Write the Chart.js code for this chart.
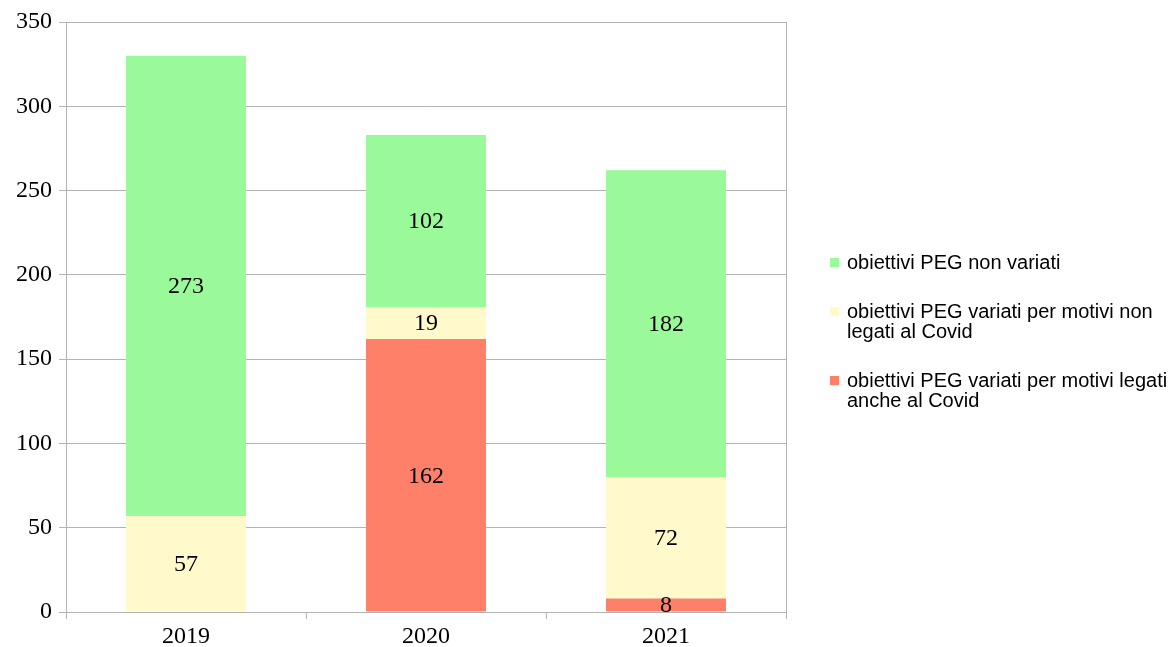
<!DOCTYPE html>
<html>
<head>
<meta charset="utf-8">
<script src="https://cdn.jsdelivr.net/npm/chart.js@4/dist/chart.umd.min.js"></script>
<style>
  html, body { margin: 0; padding: 0; background: #fff; }
  #wrap { position: relative; width: 1175px; height: 647px; }
  #legend { position: absolute; left: 830px; top: 252px; width: 345px;
            font-family: "Liberation Sans", Arial, sans-serif; font-size: 20px;
            line-height: 20px; color: #000; }
  .item { position: relative; padding-left: 17px; margin-bottom: 29px; }
  .item .sw { position: absolute; left: 0; top: 6px; width: 9px; height: 9px; }
</style>
</head>
<body>
<div id="wrap">
  <canvas id="chart" width="1175" height="647"></canvas>
  <div id="legend"></div>
</div>
<script>
const YEARS = ['2019', '2020', '2021'];

// bottom to top in each bar
const SERIES_NAMES = [
   ['obiettivi PEG variati per motivi legati', 'anche al Covid'],
   ['obiettivi PEG variati per motivi non', 'legati al Covid'],
   ['obiettivi PEG non variati']
];
const COVID_VALUES = [0, 162, 8];
const OTHER_VALUES = [57, 19, 72];
const UNCHANGED_VALUES = [273, 102, 182];

const SERIES_COLORS = ['#ff8068', '#fff9cc', '#9afa9a'];
const Y_TICKS = [0, 50, 100, 150, 200, 250, 300, 350];

const GRID = '#b3b3b3';
const SERIF = '"Liberation Serif", "Times New Roman", serif';

// draws the number in the middle of every segment
const valueLabels = {
   id: 'valueLabels',
   afterDatasetsDraw(chart) {
      const ctx = chart.ctx;
      ctx.save();
      ctx.font = '24px ' + SERIF;
      ctx.fillStyle = '#000';
      ctx.textAlign = 'center';
      ctx.textBaseline = 'middle';
      chart.data.datasets.forEach((ds, i) => {
         chart.getDatasetMeta(i).data.forEach((bar, j) => {
            const v = ds.data[j];
            if (!v) return;
            const p = bar.getCenterPoint();
            ctx.fillText(String(v), p.x, p.y + 1);
         });
      });
      ctx.restore();
   }
};

// right edge line of the plot area
const rightBorder = {
   id: 'rightBorder',
   beforeDatasetsDraw(chart) {
      const a = chart.chartArea;
      const ctx = chart.ctx;
      ctx.save();
      ctx.strokeStyle = GRID;
      ctx.lineWidth = 1;
      ctx.beginPath();
      ctx.moveTo(Math.round(a.right) + 0.5, a.top);
      ctx.lineTo(Math.round(a.right) + 0.5, a.bottom);
      ctx.stroke();
      ctx.restore();
   }
};

const valueSets = [COVID_VALUES, OTHER_VALUES, UNCHANGED_VALUES];

const chart = new Chart(document.getElementById('chart'), {
   type: 'bar',
   data: {
      labels: YEARS,
      datasets: valueSets.map((vals, i) => ({
         label: SERIES_NAMES[i].join(' '),
         data: vals,
         backgroundColor: SERIES_COLORS[i],
         borderWidth: 0,
         barPercentage: 0.5,
         categoryPercentage: 1
      }))
   },
   options: {
      responsive: false,
      maintainAspectRatio: false,
      animation: false,
      layout: { padding: { top: 22, right: 389, left: 0, bottom: 0 } },
      plugins: {
         legend: { display: false },
         tooltip: { enabled: false }
      },
      scales: {
         x: {
            stacked: true,
            grid: { display: true, drawOnChartArea: false, drawTicks: true, tickLength: 7, color: GRID, offset: true },
            border: { display: true, color: GRID },
            ticks: { color: '#000', font: { family: SERIF, size: 24 }, padding: 3 },
            afterFit(scale) { scale.height = 35; }
         },
         y: {
            stacked: true,
            min: 0,
            max: 350,
            afterBuildTicks(scale) { scale.ticks = Y_TICKS.map(v => ({ value: v })); },
            grid: { color: GRID, tickLength: 7 },
            border: { display: true, color: GRID },
            ticks: { color: '#000', font: { family: SERIF, size: 24 }, padding: 7 },
            afterFit(scale) { scale.width = 66; }
         }
      }
   },
   plugins: [valueLabels, rightBorder]
});

// legend, top entry first like the reference
const legend = document.getElementById('legend');
for (let i = SERIES_NAMES.length - 1; i >= 0; i--) {
   const item = document.createElement('div');
   item.className = 'item';
   const sw = document.createElement('span');
   sw.className = 'sw';
   sw.style.background = SERIES_COLORS[i];
   item.appendChild(sw);
   SERIES_NAMES[i].forEach((line, k) => {
      if (k > 0) item.appendChild(document.createElement('br'));
      item.appendChild(document.createTextNode(line));
   });
   legend.appendChild(item);
}
</script>
</body>
</html>
